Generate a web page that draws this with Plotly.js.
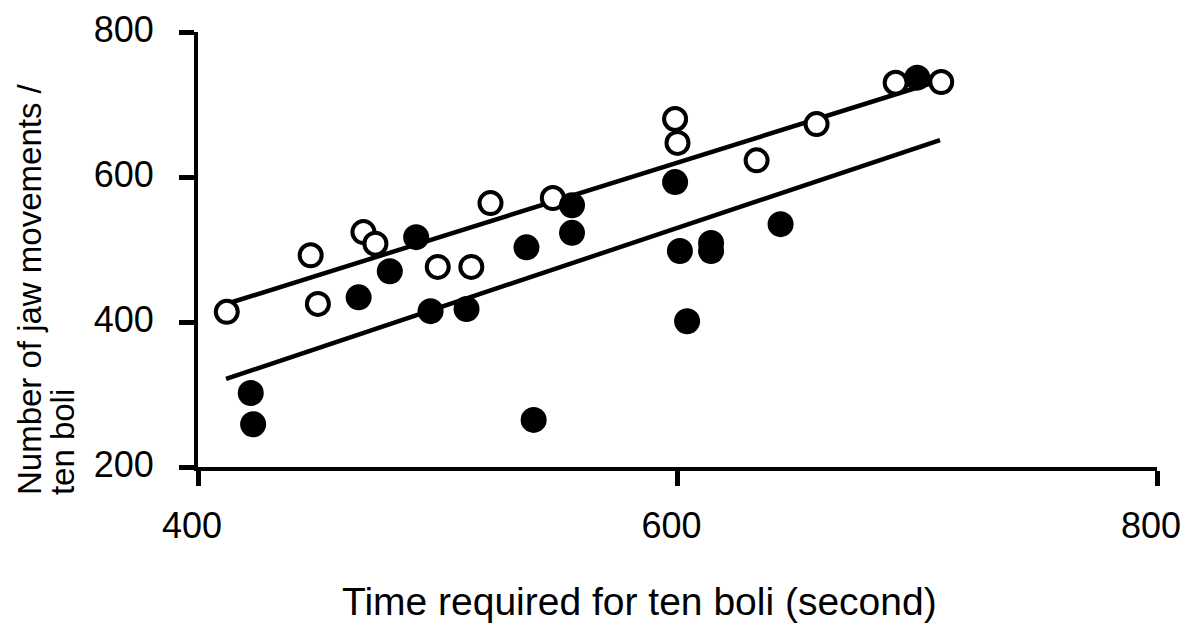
<!DOCTYPE html>
<html>
<head>
<meta charset="utf-8">
<script src="https://cdn.plot.ly/plotly-3.0.1.min.js"></script>
<style>html,body{margin:0;padding:0;background:#fff;}#chart{width:1200px;height:628px;}</style>
</head>
<body>
<div id="chart"></div>
<script>
// Open circles
const openX = [412, 447, 450, 469, 474, 500, 514, 522, 548, 599, 600, 633, 658, 691, 710];
const openY = [414, 492, 425, 524, 508, 476, 476, 564, 571, 680, 647, 623, 673, 730, 731];
// Filled circles
const filledX = [422, 423, 467, 480, 491, 497, 512, 537, 540, 556, 556, 599, 601, 604, 614, 614, 643, 700];
const filledY = [302, 259, 434, 470, 517, 415, 418, 503, 265, 523, 561, 593, 498, 401, 509, 498, 535, 737];
// Regression lines (end points)
const upperFitX = [411.7, 707.4];
const upperFitY = [424.8, 731];
const lowerFitX = [411.7, 709.5];
const lowerFitY = [321.4, 651];
const xTicks = [400, 600, 800];
const yTicks = [200, 400, 600, 800];
const xTitle = 'Time required for ten boli (second)';
const yTitleLines = ['Number of jaw movements /', 'ten boli'];

const font = 'Liberation Sans, Arial, sans-serif';

const traces = [
  {x: upperFitX, y: upperFitY, mode: 'lines', type: 'scatter', line: {color: '#000', width: 4.5}, hoverinfo: 'skip'},
  {x: lowerFitX, y: lowerFitY, mode: 'lines', type: 'scatter', line: {color: '#000', width: 4.5}, hoverinfo: 'skip'},
  {x: openX, y: openY, mode: 'markers', type: 'scatter',
   marker: {symbol: 'circle', size: 22, color: '#fff', line: {color: '#000', width: 4}}},
  {x: filledX, y: filledY, mode: 'markers', type: 'scatter',
   marker: {symbol: 'circle', size: 26, color: '#000', line: {width: 0}}}
];

const layout = {
  width: 1200, height: 628,
  margin: {l: 198, r: 43, t: 32, b: 161},
  paper_bgcolor: '#fff', plot_bgcolor: '#fff',
  showlegend: false,
  font: {family: font, color: '#000'},
  xaxis: {
    range: [400, 800], tickvals: xTicks, ticktext: xTicks.map(String),
    showline: true, linecolor: '#000', linewidth: 4,
    ticks: 'outside', ticklen: 15, tickwidth: 5, tickcolor: '#000',
    showgrid: false, zeroline: false,
    tickfont: {size: 36, family: font, color: '#000'},
    ticklabelstandoff: 9, ticklabelshift: -6
  },
  yaxis: {
    range: [200, 800], tickvals: yTicks, ticktext: yTicks.map(String),
    showline: true, linecolor: '#000', linewidth: 4,
    ticks: 'outside', ticklen: 15, tickwidth: 5, tickcolor: '#000',
    showgrid: false, zeroline: false,
    tickfont: {size: 36, family: font, color: '#000'},
    ticklabelstandoff: 18, ticklabelshift: -3
  },
  annotations: [
    {text: xTitle, xref: 'paper', yref: 'paper', x: 0.46, y: -0.3103,
     xanchor: 'center', yanchor: 'middle', showarrow: false,
     font: {size: 39, family: font, color: '#000'}},
    {text: yTitleLines[0], xref: 'paper', yref: 'paper', x: -0.1762, y: -0.069,
     xanchor: 'center', yanchor: 'bottom', textangle: -90, showarrow: false,
     font: {size: 33, family: font, color: '#000'}},
    {text: yTitleLines[1], xref: 'paper', yref: 'paper', x: -0.1417, y: -0.069,
     xanchor: 'center', yanchor: 'bottom', textangle: -90, showarrow: false,
     font: {size: 33, family: font, color: '#000'}}
  ]
};

Plotly.newPlot('chart', traces, layout, {staticPlot: true, displayModeBar: false});
</script>
</body>
</html>
